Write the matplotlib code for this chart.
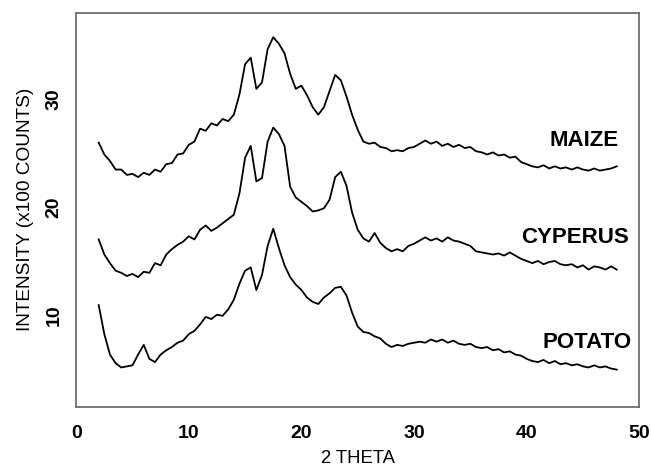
#!/usr/bin/env python3
"""
X-ray diffraction patterns of three starches (maize, cyperus, potato).
"""
import matplotlib
matplotlib.use("Agg")
import matplotlib.pyplot as plt
import numpy as np

plt.rcParams['font.family'] = ['Liberation Sans', 'DejaVu Sans']

# 2-theta sampling (every 0.5 degree from 2 to 48)
two_theta = np.arange(2.0, 48.01, 0.5)

# intensities (x100 counts)
maize = [
    26.0, 24.9, 24.3, 23.5, 23.5, 23.0, 23.1, 22.8, 23.2, 23.0,
    23.5, 23.3, 24.0, 24.1, 24.9, 25.0, 25.8, 26.1, 27.3, 27.1,
    27.8, 27.6, 28.2, 28.0, 28.6, 30.5, 33.3, 33.9, 31.0, 31.6,
    34.7, 35.8, 35.2, 34.3, 32.4, 31.0, 31.3, 30.4, 29.3, 28.6,
    29.3, 30.8, 32.3, 31.8, 30.3, 28.6, 27.2, 26.1, 25.9, 26.0,
    25.6, 25.5, 25.2, 25.3, 25.2, 25.5, 25.6, 25.9, 26.2, 25.9,
    26.1, 25.7, 25.9, 25.6, 25.8, 25.5, 25.6, 25.2, 25.1, 24.9,
    25.1, 24.8, 24.9, 24.6, 24.7, 24.2, 24.0, 23.8, 23.7, 23.9,
    23.6, 23.8, 23.6, 23.7, 23.5, 23.7, 23.5, 23.4, 23.6, 23.4,
    23.5, 23.6, 23.8,
]
cyperus = [
    17.0, 15.6, 14.8, 14.1, 13.9, 13.6, 13.8, 13.5, 14.0, 13.9,
    14.8, 14.6, 15.6, 16.1, 16.5, 16.8, 17.3, 17.0, 17.9, 18.3,
    17.8, 18.1, 18.5, 18.9, 19.3, 21.3, 24.6, 25.7, 22.4, 22.7,
    26.1, 27.4, 26.8, 25.7, 21.9, 20.9, 20.5, 20.1, 19.6, 19.7,
    19.9, 20.7, 22.8, 23.3, 22.0, 19.5, 17.9, 17.1, 16.8, 17.6,
    16.7, 16.2, 15.9, 16.1, 15.9, 16.4, 16.6, 16.9, 17.2, 16.9,
    17.1, 16.8, 17.2, 16.9, 16.8, 16.6, 16.4, 15.9, 15.8, 15.7,
    15.6, 15.7, 15.5, 15.8, 15.5, 15.2, 15.0, 14.8, 15.0, 14.7,
    14.9, 15.0, 14.7, 14.6, 14.7, 14.4, 14.6, 14.2, 14.5, 14.4,
    14.2, 14.5, 14.2,
]
potato = [
    10.9, 8.2, 6.3, 5.5, 5.1, 5.2, 5.3, 6.3, 7.2, 5.9,
    5.6, 6.3, 6.7, 7.0, 7.4, 7.6, 8.2, 8.5, 9.1, 9.8,
    9.6, 10.0, 9.9, 10.5, 11.4, 12.9, 14.1, 14.4, 12.3, 13.7,
    16.4, 18.0, 16.2, 14.6, 13.5, 12.8, 12.3, 11.6, 11.2, 11.0,
    11.6, 12.0, 12.5, 12.6, 11.8, 10.2, 8.9, 8.4, 8.3, 8.0,
    7.8, 7.3, 7.0, 7.2, 7.1, 7.3, 7.4, 7.5, 7.4, 7.7,
    7.5, 7.7, 7.4, 7.6, 7.3, 7.2, 7.3, 7.0, 6.9, 7.0,
    6.7, 6.8, 6.5, 6.6, 6.3, 6.2, 5.9, 5.7, 5.6, 5.8,
    5.5, 5.7, 5.4, 5.5, 5.3, 5.4, 5.2, 5.1, 5.3, 5.1,
    5.2, 5.0, 4.9,
]

samples = ['MAIZE', 'CYPERUS', 'POTATO']
series = [maize, cyperus, potato]
label_pos = [(48.2, 26.2), (49.1, 17.2), (49.3, 7.4)]

fig = plt.figure(figsize=(6.51, 4.71), dpi=100)
ax = fig.add_axes([0.117, 0.136, 0.865, 0.837])

for name, vals, (lx, ly) in zip(samples, series, label_pos):
    ax.plot(two_theta, vals, color='black', linewidth=1.3)
    ax.text(lx, ly, name, ha='right', va='center',
            fontsize=16, fontweight='bold')

ax.set_xlim(0, 50)
ax.set_ylim(1.43, 38.08)
ax.set_xticks([0, 10, 20, 30, 40, 50])
ax.set_yticks([10, 20, 30])
ax.tick_params(axis='both', length=0, labelsize=14)
ax.tick_params(axis='x', pad=13)
ax.tick_params(axis='y', pad=10)
for lab in ax.get_xticklabels() + ax.get_yticklabels():
    lab.set_fontweight('bold')
for lab in ax.get_yticklabels():
    lab.set_rotation(90)
    lab.set_va('center')

for spine in ax.spines.values():
    spine.set_color('#707070')
    spine.set_linewidth(1.3)

ax.set_xlabel('2 THETA', fontsize=13.3, labelpad=6)
ax.set_ylabel('INTENSITY (x100 COUNTS)', fontsize=13.7, labelpad=8)

fig.savefig('out.png', dpi=100)
